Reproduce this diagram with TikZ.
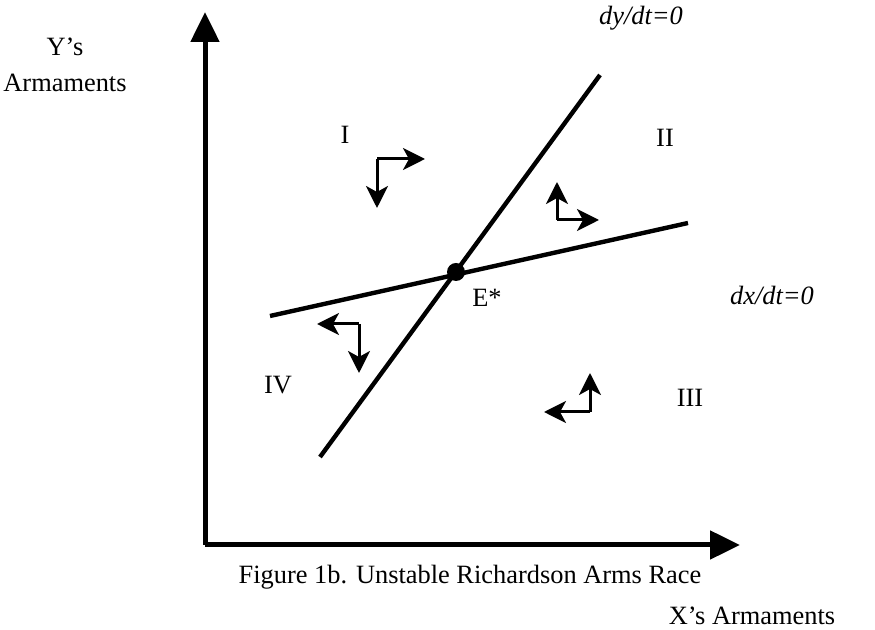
\documentclass[tikz,border=0pt]{standalone}
\usepackage{fontspec}
\setmainfont{Liberation Serif}
\usetikzlibrary{arrows.meta, positioning}

\begin{document}
\begin{tikzpicture}[
    x=0.5pt, y=-0.5pt,
    lbl/.style={inner sep=0pt, font=\fontsize{13.2}{15.8}\selectfont},
    axis/.style={line width=2.5pt, -{Triangle[length=15pt,width=14pt]}},
    curve/.style={line width=2.2pt},
    move/.style={line width=1.5pt, -{Stealth[length=11pt,width=11pt,inset=3pt]}}
]
\useasboundingbox (0,0) rectangle (875,630);

% Axes
\coordinate (origin) at (205,545);
\coordinate (ytop) at (205,12);
\coordinate (xtip) at (740,545);
\draw [axis] (origin) -- (ytop);
\draw [axis] (origin) -- (xtip);

% Isoclines
\coordinate (dyA) at (320,457);
\coordinate (dyB) at (600,75);
\coordinate (dxA) at (270,316);
\coordinate (dxB) at (688,223);
\draw [curve] (dyA) -- (dyB);
\draw [curve] (dxA) -- (dxB);
\fill (456,272) circle (9);

% Labels
\node (ylab) [lbl, align=center] at (65,65) {Y's\\[2pt]Armaments};
\node (dylab) [lbl, font=\fontsize{13.2}{15.8}\selectfont\itshape] at (641,18) {dy/dt=0};
\node (dxlab) [lbl, font=\fontsize{13.2}{15.8}\selectfont\itshape] at (772,295) {dx/dt=0};
\node (estar) [lbl] at (487,298) {E*};
\node (r1) [lbl] at (345,135) {I};
\node (r2) [lbl] at (665,138) {II};
\node (r3) [lbl] at (690,398) {III};
\node (r4) [lbl] at (278,385) {IV};
\node (cap) [lbl] at (470,577) {Figure 1b. Unstable Richardson Arms Race};
\node (xlab) [lbl] at (752,616) {X's Armaments};

% Direction arrows
\coordinate (c1) at (377,159);
\draw [move] (c1) -- (425,159);
\draw [move] (c1) -- (377,208);
\coordinate (c2) at (557,220);
\draw [move] (c2) -- (557,182);
\draw [move] (c2) -- (599,220);
\coordinate (c3) at (590,412);
\draw [move] (c3) -- (590,373);
\draw [move] (c3) -- (544,412);
\coordinate (c4) at (359,324);
\draw [move] (c4) -- (317,324);
\draw [move] (c4) -- (359,373);

\end{tikzpicture}
\end{document}
